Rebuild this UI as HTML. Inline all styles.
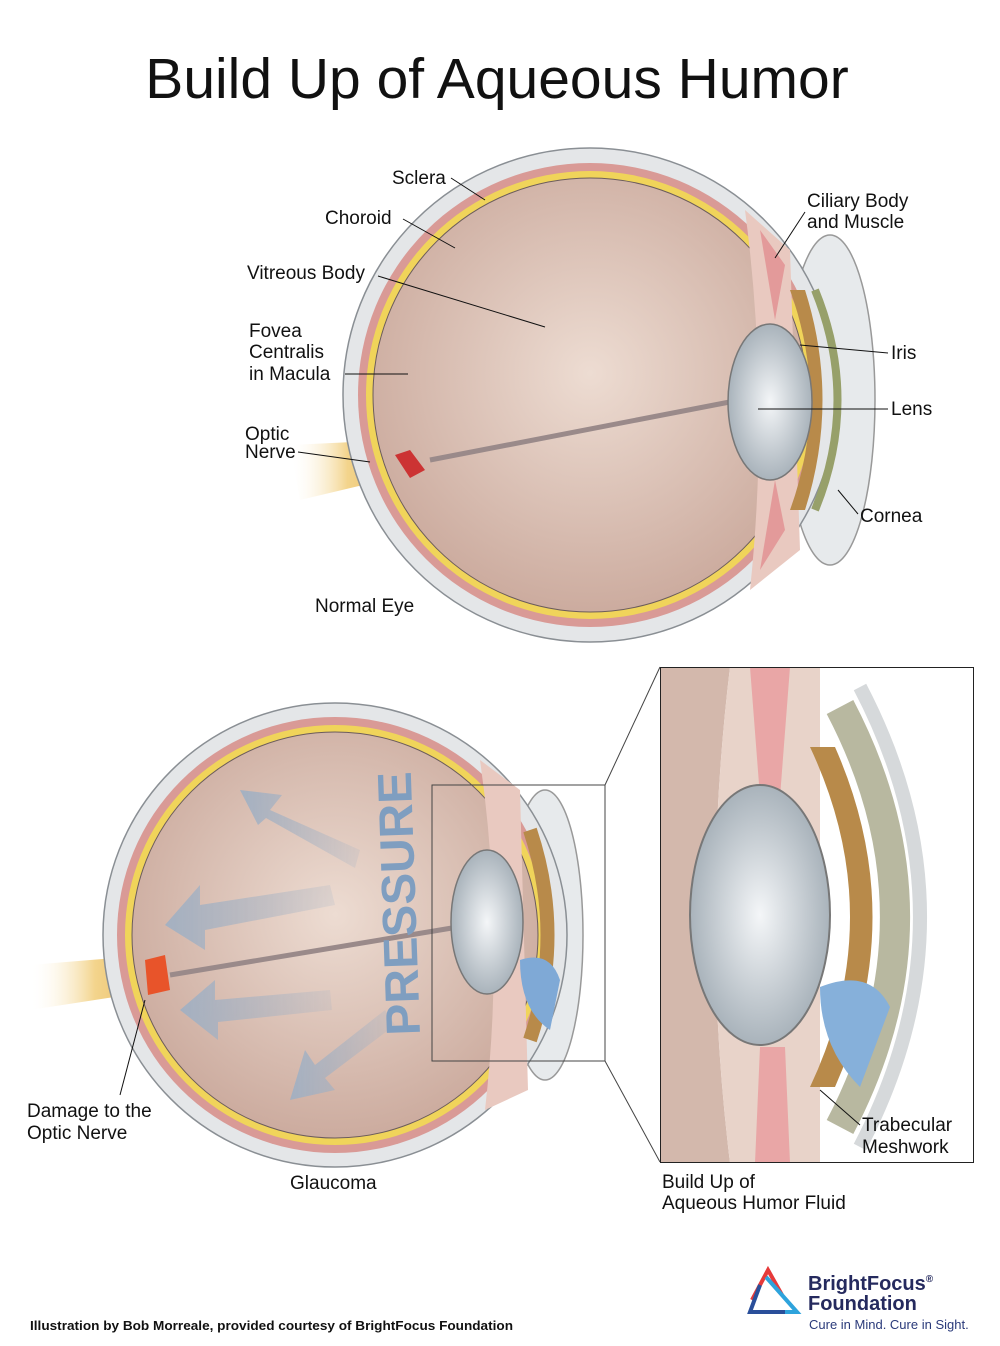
<!DOCTYPE html>
<html><head><meta charset="utf-8"><style>
html,body{margin:0;padding:0;background:#fff}
svg{display:block}
text{font-family:"Liberation Sans",sans-serif;fill:#111}
</style></head><body>
<svg width="1000" height="1346" viewBox="0 0 1000 1346" xmlns="http://www.w3.org/2000/svg">
<defs>
<radialGradient id="vit" cx="0.5" cy="0.45" r="0.6"><stop offset="0" stop-color="#eddcd2"/><stop offset="1" stop-color="#c9a79a"/></radialGradient>
<radialGradient id="lens" cx="0.5" cy="0.5" r="0.5"><stop offset="0" stop-color="#f4f6f8"/><stop offset="1" stop-color="#a9b3bb"/></radialGradient>
<linearGradient id="nerve" x1="0" x2="1"><stop offset="0" stop-color="#fff" stop-opacity="0"/><stop offset="0.5" stop-color="#f3d48c"/><stop offset="1" stop-color="#e9b85a"/></linearGradient>
<linearGradient id="arr" x1="0" x2="1"><stop offset="0" stop-color="#9fb0c4"/><stop offset="1" stop-color="#9fb0c4" stop-opacity="0.2"/></linearGradient>
</defs>
<text x="497" y="98" font-size="57" text-anchor="middle">Build Up of Aqueous Humor</text>

<!-- TOP EYE -->
<g>
<path d="M290 445 L395 440 L405 475 L300 500 Z" fill="url(#nerve)"/>
<ellipse cx="830" cy="400" rx="45" ry="165" fill="#e7eaec" stroke="#999" stroke-width="1.5"/>
<circle cx="590" cy="395" r="247" fill="#e4e6e8" stroke="#8a8f94" stroke-width="1.5"/>
<circle cx="590" cy="395" r="232" fill="#d99a96"/>
<circle cx="590" cy="395" r="224" fill="#f0d45a"/>
<circle cx="590" cy="395" r="217" fill="url(#vit)" stroke="#6b5c5c" stroke-width="1"/>
<path d="M745 210 L790 250 L800 550 L750 590 Q770 400 745 210 Z" fill="#e9c9c0"/>
<path d="M760 230 L785 265 L775 320 Z M760 570 L785 530 L775 480 Z" fill="#e39a9a"/>
<path d="M790 290 Q830 400 790 510 L805 510 Q840 400 805 290 Z" fill="#b88a4a"/>
<path d="M815 290 Q860 400 815 510" fill="none" stroke="#97a06a" stroke-width="8"/>
<path d="M430 460 L740 400" stroke="#9a8a8a" stroke-width="5"/>
<ellipse cx="770" cy="402" rx="42" ry="78" fill="url(#lens)" stroke="#777" stroke-width="1.5"/>
<path d="M395 455 L410 450 L425 470 L410 478 Z" fill="#c33"/>
</g>
<g font-size="19">
<text x="392" y="184">Sclera</text><line x1="451" y1="178" x2="485" y2="200" stroke="#111"/>
<text x="325" y="224">Choroid</text><line x1="403" y1="219" x2="455" y2="248" stroke="#111"/>
<text x="247" y="279">Vitreous Body</text><line x1="378" y1="276" x2="545" y2="327" stroke="#111"/>
<text x="249" y="337">Fovea</text><text x="249" y="358">Centralis</text><text x="249" y="380">in Macula</text><line x1="345" y1="374" x2="408" y2="374" stroke="#111"/>
<text x="245" y="440">Optic</text><text x="245" y="458">Nerve</text><line x1="298" y1="452" x2="370" y2="462" stroke="#111"/>
<text x="807" y="207">Ciliary Body</text><text x="807" y="228">and Muscle</text><line x1="805" y1="212" x2="775" y2="258" stroke="#111"/>
<text x="891" y="359">Iris</text><line x1="888" y1="353" x2="800" y2="345" stroke="#111"/>
<text x="891" y="415">Lens</text><line x1="888" y1="409" x2="758" y2="409" stroke="#111"/>
<text x="860" y="522">Cornea</text><line x1="858" y1="514" x2="838" y2="490" stroke="#111"/>
<text x="315" y="612">Normal Eye</text>
</g>

<!-- BOTTOM EYE -->
<g>
<path d="M30 965 L150 955 L160 990 L30 1010 Z" fill="url(#nerve)"/>
<ellipse cx="545" cy="935" rx="38" ry="145" fill="#e7eaec" stroke="#999" stroke-width="1.5"/>
<circle cx="335" cy="935" r="232" fill="#e4e6e8" stroke="#8a8f94" stroke-width="1.5"/>
<circle cx="335" cy="935" r="218" fill="#d99a96"/>
<circle cx="335" cy="935" r="210" fill="#f0d45a"/>
<circle cx="335" cy="935" r="203" fill="url(#vit)" stroke="#6b5c5c" stroke-width="1"/>
<path d="M480 760 L520 790 L528 1090 L485 1110 Q505 935 480 760 Z" fill="#e9c9c0"/>
<path d="M530 830 Q565 935 530 1040" fill="none" stroke="#b88a4a" stroke-width="14"/>
<path d="M170 975 L470 925" stroke="#9a8a8a" stroke-width="5"/>
<ellipse cx="487" cy="922" rx="36" ry="72" fill="url(#lens)" stroke="#777" stroke-width="1.5"/>
<path d="M520 960 Q550 950 560 980 L550 1030 Q520 1010 520 960 Z" fill="#7fa9d6"/>
<path d="M145 960 L165 955 L170 990 L148 995 Z" fill="#e8542a"/>
<g fill="url(#arr)" opacity="0.9">
<path d="M360 850 L270 810 L282 795 L240 790 L258 825 L266 818 L355 868 Z"/>
<path d="M330 885 L200 905 L200 885 L165 925 L205 950 L205 930 L335 905 Z"/>
<path d="M330 990 L215 1000 L215 980 L180 1010 L218 1040 L218 1022 L332 1010 Z"/>
<path d="M385 1010 L315 1065 L305 1050 L290 1100 L335 1090 L325 1078 L395 1025 Z"/>
</g>
<text x="0" y="0" font-size="48" font-weight="bold" style="fill:#7f9ec0" transform="translate(420,1035) rotate(-92)">PRESSURE</text>
</g>
<rect x="432" y="785" width="173" height="276" fill="none" stroke="#444" stroke-width="1"/>
<line x1="605" y1="785" x2="660" y2="667" stroke="#444"/>
<line x1="605" y1="1061" x2="660" y2="1162" stroke="#444"/>

<!-- INSET -->
<svg x="660" y="667" width="314" height="496" viewBox="0 0 314 496">
<rect width="314" height="496" fill="#fff"/>
<path d="M0 0 L70 0 Q40 250 70 496 L0 496 Z" fill="#d3b8ac"/>
<path d="M70 0 L160 0 L160 496 L70 496 Q40 250 70 0Z" fill="#e8d3c9"/>
<path d="M90 0 L130 0 L120 130 L100 130 Z" fill="#e9a6a6"/>
<path d="M95 496 L130 496 L125 380 L100 380 Z" fill="#e9a6a6"/>
<path d="M150 80 Q230 250 150 420 L175 420 Q250 250 175 80 Z" fill="#b88a4a"/>
<path d="M180 40 Q290 250 180 460" fill="none" stroke="#b8b8a0" stroke-width="30"/>
<path d="M200 20 Q320 250 200 480" fill="none" stroke="#d6d9db" stroke-width="14"/>
<ellipse cx="100" cy="248" rx="70" ry="130" fill="url(#lens)" stroke="#777" stroke-width="2"/>
<path d="M160 320 Q210 300 230 340 L200 420 Q160 380 160 320 Z" fill="#86b0da"/>
<rect x="0.5" y="0.5" width="313" height="495" fill="none" stroke="#222"/>
</svg>

<g font-size="19">
<text x="862" y="1131">Trabecular</text><text x="862" y="1153">Meshwork</text><line x1="860" y1="1125" x2="820" y2="1090" stroke="#111"/>
<text x="662" y="1188">Build Up of</text><text x="662" y="1209">Aqueous Humor Fluid</text>
<text x="27" y="1117">Damage to the</text><text x="27" y="1139">Optic Nerve</text><line x1="120" y1="1095" x2="145" y2="1000" stroke="#111"/>
<text x="290" y="1189">Glaucoma</text>
</g>
<text x="30" y="1330" font-size="13" font-weight="bold" textLength="483" lengthAdjust="spacingAndGlyphs">Illustration by Bob Morreale, provided courtesy of BrightFocus Foundation</text>

<!-- LOGO -->
<g fill="none" stroke-width="4">
<path d="M752 1300 L768 1270 L782 1295" stroke="#e63a3a"/>
<path d="M766 1277 L797 1312 L766 1312" stroke="#2ea3dc"/>
<path d="M760 1285 L750 1312 L785 1312" stroke="#2a4f9a"/>
</g>
<text x="808" y="1290" font-size="20" font-weight="bold" style="fill:#252a5e">BrightFocus<tspan font-size="10" dy="-8">®</tspan></text>
<text x="808" y="1310" font-size="20" font-weight="bold" style="fill:#252a5e">Foundation</text>
<text x="809" y="1329" font-size="13" style="fill:#2a3a7a">Cure in Mind. Cure in Sight.</text>
</svg>
</body></html>
